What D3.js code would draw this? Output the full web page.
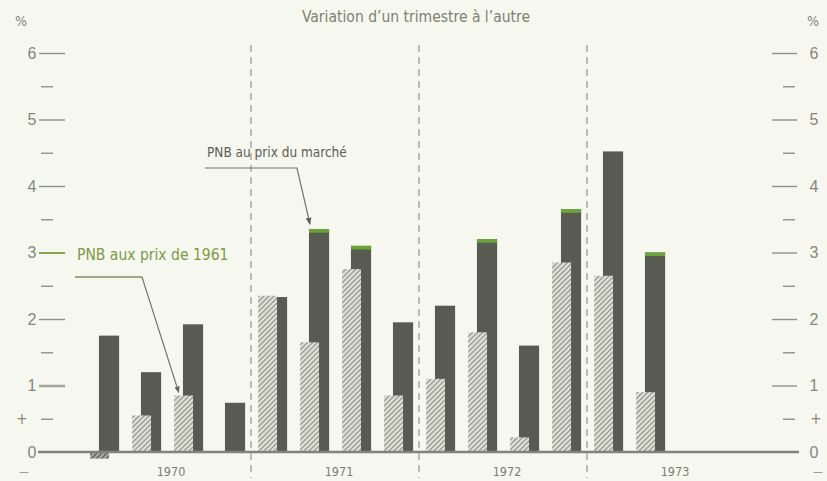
<!DOCTYPE html>
<html lang="fr">
<head>
<meta charset="UTF-8">
<title>PNB - variation d'un trimestre à l'autre</title>
<script src="https://d3js.org/d3.v7.min.js"></script>
<style>
    body { margin: 0; background: #f6f7ef; }
    svg { display: block; font-family: "DejaVu Sans Condensed", "DejaVu Sans", sans-serif; font-stretch: condensed; }
    .tick text { fill: #85877c; font-size: 16px; }
</style>
</head>
<body>
<script>
    // trimestres 1970-1973
    var years = ["1970", "1971", "1972", "1973"];
    var quarters = [];
    years.forEach(function (y) {
        ["T1", "T2", "T3", "T4"].forEach(function (q) { quarters.push(y + " " + q); });
    });

    // PNB aux prix de 1961 (barres hachurées)
    var pnbReel = [-0.1, 0.55, 0.85, 0, 2.35, 1.65, 2.75, 0.85, 1.1, 1.8, 0.22, 2.85, 2.65, 0.9, null, null];
    // PNB au prix du marché (barres foncées)
    var pnbMarche = [1.75, 1.2, 1.92, 0.74, 2.33, 3.35, 3.1, 1.95, 2.2, 3.2, 1.6, 3.65, 4.52, 3.0, null, null];
    // barres dont le sommet est marqué en vert
    var greenTops = ["1971 T2", "1971 T3", "1972 T2", "1972 T4", "1973 T2"];

    var majorTicks = [0, 1, 2, 3, 4, 5, 6];
    var minorTicks = [0.5, 1.5, 2.5, 3.5, 4.5, 5.5];

    var width = 827, height = 481;

    var svg = d3.select("body").append("svg")
        .attr("width", width)
        .attr("height", height);

    svg.append("rect").attr("width", width).attr("height", height).attr("fill", "#f6f7ef");

    var defs = svg.append("defs");
    function hatch(id, bg, fg) {
        var p = defs.append("pattern")
            .attr("id", id)
            .attr("patternUnits", "userSpaceOnUse")
            .attr("width", 5).attr("height", 5);
        p.append("rect").attr("width", 5).attr("height", 5).attr("fill", bg);
        p.append("path")
            .attr("d", "M-1,1 l2,-2 M0,5 l5,-5 M4,6 l2,-2")
            .attr("stroke", fg).attr("stroke-width", 1.3);
    }
    hatch("hatch", "#e0e2d7", "#989a90");
    hatch("hatchNeg", "#a9ab9f", "#5f6259");

    defs.append("marker")
        .attr("id", "arrow")
        .attr("viewBox", "0 0 10 10")
        .attr("refX", 9).attr("refY", 5)
        .attr("markerWidth", 6).attr("markerHeight", 6)
        .attr("orient", "auto")
        .append("path")
        .attr("d", "M0,1 L10,5 L0,9 z")
        .attr("fill", "#5f625a");

    var x = d3.scaleBand().domain(quarters).range([83, 755]).padding(0);
    var bw = x.bandwidth();
    var y = d3.scaleLinear().domain([0, 6]).range([452, 53]);

    // titre
    svg.append("text")
        .attr("x", 416).attr("y", 22)
        .attr("text-anchor", "middle")
        .attr("fill", "#7d8173")
        .attr("font-size", 15.5)
        .text("Variation d\u2019un trimestre à l\u2019autre");

    svg.append("text").attr("x", 21).attr("y", 26).attr("text-anchor", "middle")
        .attr("fill", "#85877c").attr("font-size", 14).text("%");
    svg.append("text").attr("x", 813).attr("y", 26).attr("text-anchor", "middle")
        .attr("fill", "#85877c").attr("font-size", 14).text("%");

    // axes gauche
    var leftMajor = svg.append("g").attr("transform", "translate(65,0)")
        .call(d3.axisLeft(y).tickValues(majorTicks).tickSize(26).tickPadding(12).tickFormat(d3.format("d")));
    var leftMinor = svg.append("g").attr("transform", "translate(53,0)")
        .call(d3.axisLeft(y).tickValues(minorTicks).tickSize(12).tickFormat(""));
    // axes droit
    var rightMajor = svg.append("g").attr("transform", "translate(772,0)")
        .call(d3.axisRight(y).tickValues(majorTicks).tickSize(25).tickPadding(12).tickFormat(d3.format("d")));
    var rightMinor = svg.append("g").attr("transform", "translate(783,0)")
        .call(d3.axisRight(y).tickValues(minorTicks).tickSize(12).tickFormat(""));

    [leftMajor, leftMinor, rightMajor, rightMinor].forEach(function (g) {
        g.select(".domain").remove();
        g.selectAll(".tick line").attr("stroke", "#8f9287").attr("stroke-width", 1.4);
    });
    leftMajor.selectAll(".tick").filter(function (d) { return d === 3; })
        .select("line").attr("stroke", "#86a64a").attr("stroke-width", 2);
    leftMajor.selectAll(".tick").filter(function (d) { return d === 3; })
        .select("text").attr("fill", "#86a64a");
    leftMajor.selectAll(".tick").filter(function (d) { return d === 1; })
        .select("line").attr("stroke", "#a3a59c").attr("stroke-width", 2.5);
    rightMajor.selectAll(".tick").filter(function (d) { return d === 0; }).select("line").remove();
    leftMajor.selectAll(".tick").filter(function (d) { return d === 0; }).select("line").remove();
    leftMajor.selectAll(".tick text").attr("text-anchor", "middle").attr("dx", 5);
    rightMajor.selectAll(".tick text").attr("text-anchor", "middle").attr("dx", 5);

    // signes + et −
    [21, 815].forEach(function (xx) {
        svg.append("text").attr("x", xx + 1).attr("y", y(0.5) + 5).attr("text-anchor", "middle")
            .attr("fill", "#85877c").attr("font-size", 15).text("+");
        svg.append("text").attr("x", xx + 3).attr("y", y(0) + 23).attr("text-anchor", "middle")
            .attr("fill", "#85877c").attr("font-size", 11).text("\u2014");
    });

    // séparateurs des années
    var seps = years.slice(1).map(function (yr) { return x(yr + " T1"); });
    svg.append("g").selectAll("line")
        .data(seps)
        .enter().append("line")
        .attr("x1", function (d) { return d; })
        .attr("x2", function (d) { return d; })
        .attr("y1", 45).attr("y2", 478)
        .attr("stroke", "#8c8e84")
        .attr("stroke-width", 1.1)
        .attr("stroke-dasharray", "7,5");

    // barres PNB au prix du marché
    var rows = quarters.map(function (q, i) {
        return { q: q, reel: pnbReel[i], marche: pnbMarche[i] };
    });

    svg.append("g").selectAll("rect")
        .data(rows.filter(function (d) { return d.marche != null; }))
        .enter().append("rect")
        .attr("x", function (d) { return x(d.q) + bw * 0.38; })
        .attr("width", bw * 0.48)
        .attr("y", function (d) { return y(Math.max(0, d.marche)); })
        .attr("height", function (d) { return Math.abs(y(d.marche) - y(0)); })
        .attr("fill", "#595b53");

    svg.append("g").selectAll("rect")
        .data(rows.filter(function (d) { return greenTops.indexOf(d.q) >= 0; }))
        .enter().append("rect")
        .attr("x", function (d) { return x(d.q) + bw * 0.38; })
        .attr("width", bw * 0.48)
        .attr("y", function (d) { return y(d.marche); })
        .attr("height", 3.5)
        .attr("fill", "#66a832");

    // barres PNB aux prix de 1961
    svg.append("g").selectAll("rect")
        .data(rows.filter(function (d) { return d.reel; }))
        .enter().append("rect")
        .attr("x", function (d) { return x(d.q) + bw * 0.17; })
        .attr("width", bw * 0.45)
        .attr("y", function (d) { return y(Math.max(0, d.reel)); })
        .attr("height", function (d) { return Math.abs(y(d.reel) - y(0)); })
        .attr("fill", function (d) { return d.reel < 0 ? "url(#hatchNeg)" : "url(#hatch)"; });

    // ligne de base
    svg.append("line")
        .attr("x1", 38).attr("x2", 799)
        .attr("y1", y(0)).attr("y2", y(0))
        .attr("stroke", "#7f8578").attr("stroke-width", 2.5);

    // années
    svg.append("g").selectAll("text")
        .data(years)
        .enter().append("text")
        .attr("x", function (d) { return x(d + " T1") + bw * 2 + 4; })
        .attr("y", 476)
        .attr("text-anchor", "middle")
        .attr("fill", "#7c7e74")
        .attr("font-size", 12.5)
        .text(function (d) { return d; });

    // annotation PNB au prix du marché
    var qM = "1971 T2", iM = quarters.indexOf(qM);
    svg.append("text")
        .attr("x", 207).attr("y", 157)
        .attr("fill", "#5d6055").attr("font-size", 13.5)
        .text("PNB au prix du marché");
    svg.append("path")
        .attr("d", "M205,168 L297,168 L" + (x(qM) + bw * 0.38 + 1) + "," + (y(pnbMarche[iM]) - 5))
        .attr("fill", "none")
        .attr("stroke", "#6f7268").attr("stroke-width", 1.2)
        .attr("marker-end", "url(#arrow)");

    // annotation PNB aux prix de 1961
    var qR = "1970 T3", iR = quarters.indexOf(qR);
    svg.append("text")
        .attr("x", 77).attr("y", 260)
        .attr("fill", "#7e9a3f").attr("font-size", 15.5)
        .text("PNB aux prix de 1961");
    svg.append("path")
        .attr("d", "M75,277 L142,277")
        .attr("stroke", "#7f8f5a").attr("stroke-width", 1.4);
    svg.append("path")
        .attr("d", "M142,277 L" + (x(qR) + bw * 0.28) + "," + (y(pnbReel[iR]) - 3))
        .attr("fill", "none")
        .attr("stroke", "#6f7268").attr("stroke-width", 1.1)
        .attr("marker-end", "url(#arrow)");
</script>
</body>
</html>
